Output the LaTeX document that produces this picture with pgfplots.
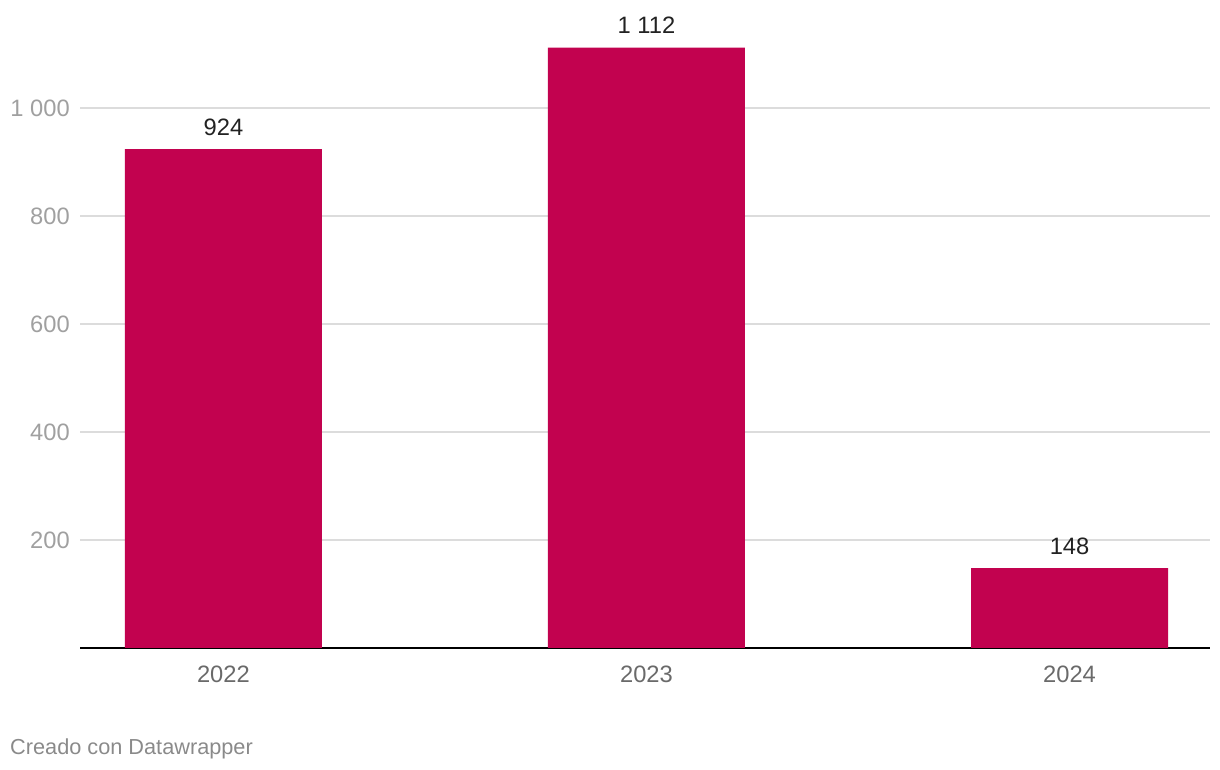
\documentclass[border=0pt]{standalone}
\usepackage{pgfplots}
\pgfplotsset{compat=1.18}
\usepackage{fontspec}
\setmainfont{Liberation Sans}
\definecolor{barc}{HTML}{C2024F}
\definecolor{gridc}{HTML}{DCDCDC}
\definecolor{ytc}{HTML}{A0A0A0}
\definecolor{xtc}{HTML}{6A6A6A}
\definecolor{foot}{HTML}{8A8A8A}
\definecolor{valc}{HTML}{222222}
\begin{document}
\begin{tikzpicture}
\path[use as bounding box] (0,0) rectangle (1220bp,770bp);
\begin{axis}[
  at={(80bp,122bp)}, anchor=south west,
  scale only axis,
  width=1130bp, height=626.4bp,
  xmin=-0.339, xmax=2.332,
  ymin=0, ymax=1160,
  axis x line*=bottom, axis y line*=left,
  y axis line style={draw=none},
  x axis line style={black, line width=1.3bp},
  xtick={0,1,2}, xticklabels={2022,2023,2024},
  ytick={200,400,600,800,1000}, yticklabels={200,400,600,800,1 000},
  major tick length=0pt,
  tick style={draw=none},
  ymajorgrids, grid style={gridc, line width=1.2bp},
  yticklabel style={font=\fontsize{23.8}{26}\selectfont, text=ytc, inner sep=0pt, anchor=east, xshift=-10bp},
  xticklabel style={font=\fontsize{23.8}{26}\selectfont, text=xtc, inner sep=0pt, anchor=north, yshift=-18bp},
  /pgf/number format/assume math mode=true,
  nodes near coords={\pgfmathprintnumber[1000 sep={\ }]{\pgfplotspointmeta}},
  every node near coord/.append style={font=\fontsize{23.8}{26}\selectfont, text=valc, inner sep=0pt, anchor=base, yshift=14bp},
]
\addplot[ybar, bar width=197bp, fill=barc, draw=none] coordinates {(0,924) (1,1112) (2,148)};
\end{axis}
\node[anchor=base west, inner sep=0pt, text=foot, font=\fontsize{21.8}{24}\selectfont] at (10bp,16bp) {Creado con Datawrapper};
\end{tikzpicture}
\end{document}
